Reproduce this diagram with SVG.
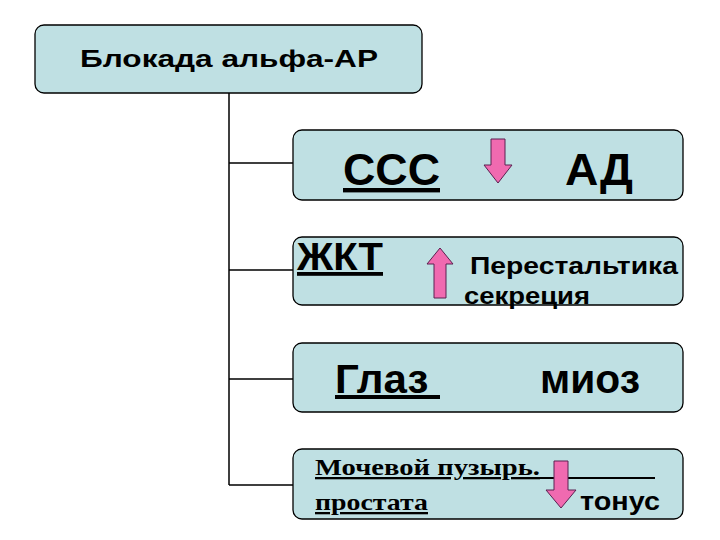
<svg xmlns="http://www.w3.org/2000/svg" width="720" height="540" viewBox="0 0 720 540">
<style>
.box{fill:#bfe0e3;stroke:#000;stroke-width:1.3}
.s{font-family:"Liberation Sans",Arial,sans-serif;fill:#000}
.r{font-family:"Liberation Serif","Times New Roman",serif;fill:#000;font-weight:bold}
.arr{fill:#f06ab0;stroke:#5a2050;stroke-width:1}
.ln{stroke:#000;stroke-width:1.5;fill:none}
</style>
<rect width="720" height="540" fill="#fff"/>
<g id="connectors">
<path class="ln" d="M229 93V485M229 163H293M229 270H293M229 379H293M229 485H293"/>
</g>
<g id="root">
<rect class="box" x="35" y="25" width="387" height="68" rx="9"/>
<text class="s" x="80" y="67" font-size="23" font-weight="bold" textLength="298" lengthAdjust="spacingAndGlyphs">Блокада альфа-АР</text>
</g>
<g id="ccc">
<rect class="box" x="293" y="130" width="390" height="70" rx="9"/>
<text class="s" x="343" y="185" font-size="44" font-weight="bold" text-decoration="underline" textLength="97" lengthAdjust="spacingAndGlyphs">ССС</text>
<path class="arr" d="M491 139H505V165H512L498 183L484 165H491Z"/>
<text class="s" x="565" y="185" font-size="44" font-weight="bold" textLength="68" lengthAdjust="spacingAndGlyphs">АД</text>
</g>
<g id="gkt">
<rect class="box" x="293" y="237" width="390" height="68" rx="9"/>
<text class="s" x="297" y="270" font-size="38" font-weight="bold" text-decoration="underline" textLength="86" lengthAdjust="spacingAndGlyphs">ЖКТ</text>
<path class="arr" d="M440 248L453 264H446V298H434V264H427Z"/>
<text class="s" x="470" y="274" font-size="24" font-weight="bold" textLength="208" lengthAdjust="spacingAndGlyphs">Перестальтика</text>
<text class="s" x="464" y="304" font-size="24" font-weight="bold" textLength="126" lengthAdjust="spacingAndGlyphs">секреция</text>
</g>
<g id="eye">
<rect class="box" x="293" y="343" width="390" height="69" rx="9"/>
<text class="s" x="335" y="393" font-size="40" font-weight="bold" text-decoration="underline" xml:space="preserve" textLength="105" lengthAdjust="spacingAndGlyphs">Глаз </text>
<text class="s" x="540" y="393" font-size="40" font-weight="bold" textLength="100" lengthAdjust="spacingAndGlyphs">миоз</text>
</g>
<g id="bladder">
<rect class="box" x="293" y="449" width="390" height="70" rx="9"/>
<text class="r" x="315" y="475" font-size="23" text-decoration="underline" textLength="225" lengthAdjust="spacingAndGlyphs">Мочевой пузырь.</text>
<line x1="540" y1="478" x2="655" y2="478" stroke="#000" stroke-width="2"/>
<text class="r" x="315" y="510" font-size="23" text-decoration="underline" textLength="113" lengthAdjust="spacingAndGlyphs">простата</text>
<path class="arr" d="M554 461H568V490H576L561 508L546 490H554Z"/>
<text class="s" x="580" y="510" font-size="25" font-weight="bold" textLength="80" lengthAdjust="spacingAndGlyphs">тонус</text>
</g>
</svg>
